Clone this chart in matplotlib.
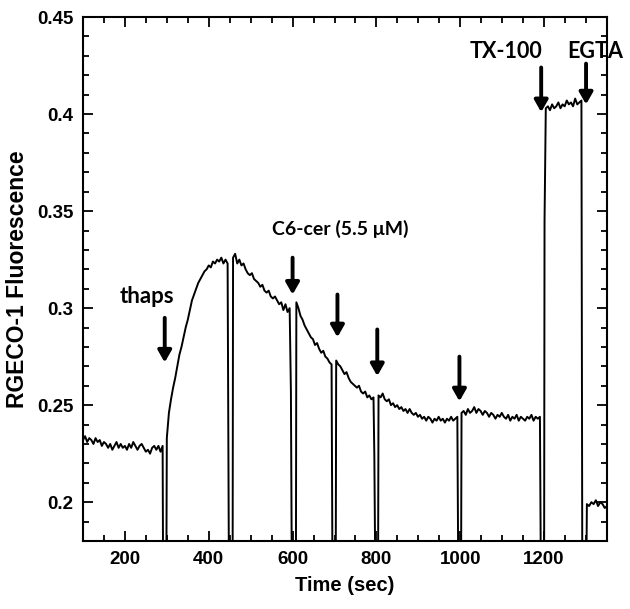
import numpy as np
import matplotlib
matplotlib.use("Agg")
import matplotlib.pyplot as plt
from matplotlib.ticker import MultipleLocator

# trace segments between additions: (start sec, end sec, readings)
seg1 = (100, 290, [0.232, 0.234, 0.231, 0.233, 0.232, 0.230, 0.233, 0.231, 0.232, 0.229,
                   0.231, 0.230, 0.228, 0.230, 0.227, 0.229, 0.231, 0.228, 0.230, 0.228,
                   0.229, 0.227, 0.230, 0.228, 0.231, 0.229, 0.227, 0.229, 0.230, 0.228,
                   0.226, 0.227, 0.225, 0.228, 0.229, 0.227, 0.229, 0.226, 0.229])
seg2 = (300, 445, [0.233, 0.246, 0.253, 0.259, 0.264, 0.270, 0.276, 0.280, 0.285, 0.290,
                   0.294, 0.299, 0.304, 0.307, 0.310, 0.313, 0.315, 0.317, 0.319, 0.320,
                   0.322, 0.321, 0.324, 0.323, 0.325, 0.324, 0.326, 0.323, 0.325, 0.323])
seg3 = (458, 593, [0.326, 0.328, 0.323, 0.325, 0.322, 0.323, 0.320, 0.318, 0.317, 0.318,
                   0.315, 0.314, 0.313, 0.311, 0.312, 0.309, 0.308, 0.309, 0.306, 0.305,
                   0.306, 0.304, 0.302, 0.303, 0.299, 0.302, 0.298, 0.300])
seg4 = (609, 693, [0.303, 0.300, 0.296, 0.294, 0.291, 0.289, 0.287, 0.285, 0.284, 0.281,
                   0.282, 0.279, 0.277, 0.278, 0.275, 0.274, 0.272, 0.271])
seg5 = (704, 793, [0.273, 0.271, 0.270, 0.268, 0.266, 0.267, 0.264, 0.262, 0.261, 0.260,
                   0.259, 0.260, 0.257, 0.256, 0.257, 0.254, 0.255, 0.253, 0.254])
seg6 = (805, 993, [0.255, 0.254, 0.256, 0.253, 0.252, 0.253, 0.250, 0.251, 0.249, 0.250,
                   0.248, 0.249, 0.247, 0.248, 0.246, 0.248, 0.246, 0.245, 0.246, 0.244,
                   0.245, 0.243, 0.244, 0.242, 0.244, 0.243, 0.241, 0.243, 0.242, 0.244,
                   0.242, 0.243, 0.241, 0.243, 0.242, 0.244, 0.242, 0.243, 0.244])
seg7 = (1003, 1190, [0.246, 0.247, 0.245, 0.248, 0.246, 0.247, 0.249, 0.246, 0.248, 0.247,
                     0.245, 0.247, 0.246, 0.244, 0.246, 0.245, 0.243, 0.245, 0.244, 0.246,
                     0.244, 0.243, 0.245, 0.242, 0.244, 0.243, 0.245, 0.242, 0.244, 0.243,
                     0.242, 0.244, 0.243, 0.245, 0.242, 0.244, 0.243, 0.244])
seg8 = (1204, 1289, [0.403, 0.404, 0.402, 0.405, 0.403, 0.404, 0.406, 0.403, 0.405, 0.404,
                     0.407, 0.405, 0.406, 0.404, 0.408, 0.405, 0.406, 0.407])
seg9 = (1302, 1350, [0.199, 0.198, 0.200, 0.199, 0.201, 0.198, 0.200, 0.199, 0.197, 0.198])

# cuvette opened at each addition: signal falls off-scale, then comes back
drop_down = [291, 448, 598, 695, 797, 995, 1192, 1291]
drop_up = [299, 457, 608, 703, 804, 1002, 1200, 1301]
partial = {596: 0.257, 795: 0.224, 1201: 0.345}
off_scale = 0.17

segments = [seg1, seg2, seg3, seg4, seg5, seg6, seg7, seg8, seg9]

t, y = [], []
for i, (t0, t1, vals) in enumerate(segments):
    t.extend(np.linspace(t0, t1, len(vals)))
    y.extend(vals)
    if i < len(drop_down):
        for pt in sorted(partial):
            if t1 < pt < drop_down[i]:
                t.append(pt)
                y.append(partial[pt])
        t.extend([drop_down[i], drop_up[i]])
        y.extend([off_scale, off_scale])
        for pt in sorted(partial):
            if drop_up[i] < pt < segments[i + 1][0]:
                t.append(pt)
                y.append(partial[pt])

# arrows (x, top, tip) and labels
arrow_x = [295, 600, 707, 802, 998, 1193, 1300]
arrow_top = [0.295, 0.326, 0.307, 0.289, 0.275, 0.424, 0.426]
arrow_tip = [0.272, 0.307, 0.285, 0.265, 0.252, 0.401, 0.405]
labels = ["thaps", "C6-cer (5.5 \u03bcM)", "TX-100", "EGTA"]
label_x = [252, 714, 1110, 1322]
label_y = [0.306, 0.341, 0.432, 0.432]
label_size = [16, 14, 15.5, 15.5]

fig = plt.figure(figsize=(6.3, 6.09), dpi=100)
ax = fig.add_axes([0.1317, 0.1117, 0.8318, 0.8603])

ax.plot(t, y, color="black", lw=1.4)

for xa, ya, yb in zip(arrow_x, arrow_top, arrow_tip):
    ax.annotate("", xy=(xa, yb), xytext=(xa, ya),
                arrowprops=dict(arrowstyle="-|>,head_width=0.4,head_length=0.7",
                                color="black", lw=2.8, shrinkA=0, shrinkB=0))

for txt, xl, yl, fs in zip(labels, label_x, label_y, label_size):
    ax.text(xl, yl, txt, ha="center", va="center", fontsize=fs,
            fontweight="bold", family="Lato", clip_on=False)

ax.set_xlim(100, 1350)
ax.set_ylim(0.18, 0.45)
ax.xaxis.set_major_locator(MultipleLocator(200))
ax.xaxis.set_minor_locator(MultipleLocator(50))
ax.yaxis.set_major_locator(MultipleLocator(0.05))
ax.yaxis.set_minor_locator(MultipleLocator(0.01))
ax.yaxis.set_major_formatter(plt.FuncFormatter(lambda v, p: ("%.2f" % v).rstrip("0")))

ax.tick_params(which="both", direction="in", top=True, right=True, width=1.3,
               labelsize=13.5, pad=7)
ax.tick_params(which="major", length=7)
ax.tick_params(which="minor", length=4)
for lab in ax.get_xticklabels() + ax.get_yticklabels():
    lab.set_family("Liberation Sans")
    lab.set_fontweight("bold")
for s in ax.spines.values():
    s.set_linewidth(1.5)

ax.set_xlabel("Time (sec)", fontsize=14.5, fontweight="bold", family="Liberation Sans", labelpad=6)
ax.set_ylabel("RGECO-1 Fluorescence", fontsize=16.5, fontweight="bold", family="Liberation Sans", labelpad=6)

fig.savefig("out.png", dpi=100)
